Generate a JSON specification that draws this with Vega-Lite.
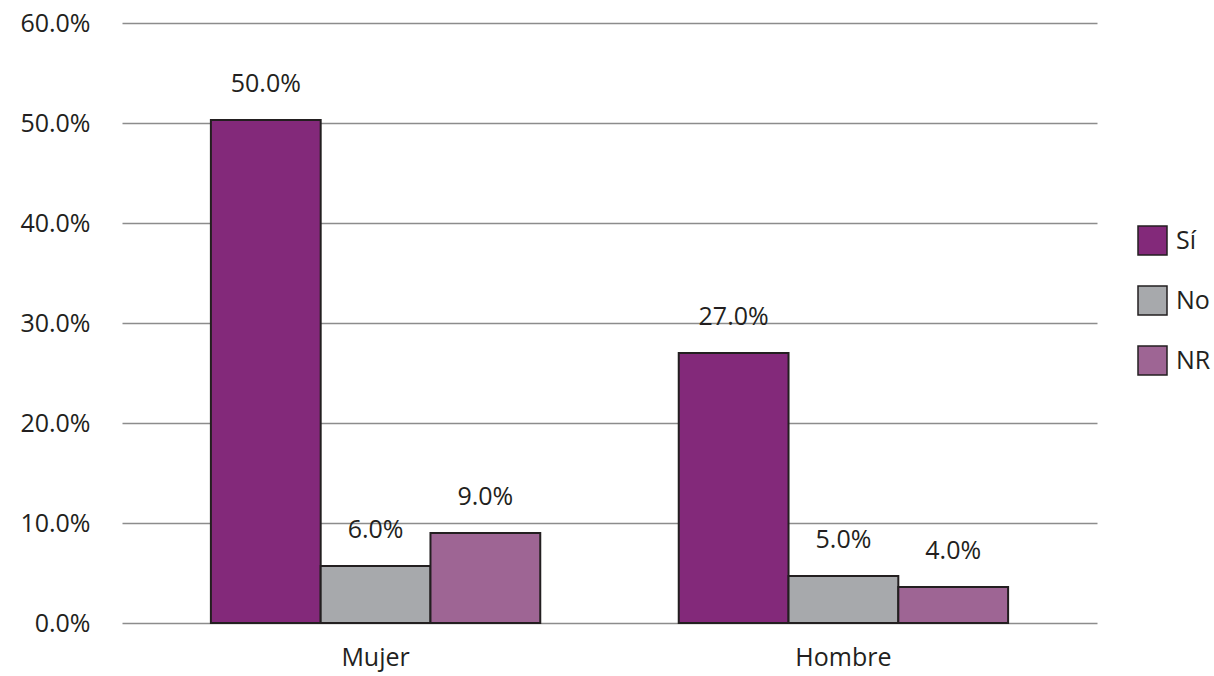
{
  "$schema": "https://vega.github.io/schema/vega-lite/v6.json",
  "width": 975,
  "height": 600,
  "autosize": {"type": "none"},
  "padding": {"left": 122, "top": 23, "right": 117, "bottom": 53},
  "background": "white",
  "config": {
    "view": {"stroke": null},
    "font": "Open Sans",
    "text": {"font": "Open Sans"}
  },
  "data": {
    "values": [
      {"sexo": "Mujer", "respuesta": "Sí", "valor": 50.3, "etiqueta": "50.0%"},
      {"sexo": "Mujer", "respuesta": "No", "valor": 5.7, "etiqueta": "6.0%"},
      {"sexo": "Mujer", "respuesta": "NR", "valor": 9.0, "etiqueta": "9.0%"},
      {"sexo": "Hombre", "respuesta": "Sí", "valor": 27.0, "etiqueta": "27.0%"},
      {"sexo": "Hombre", "respuesta": "No", "valor": 4.7, "etiqueta": "5.0%"},
      {"sexo": "Hombre", "respuesta": "NR", "valor": 3.6, "etiqueta": "4.0%"}
    ]
  },
  "encoding": {
    "x": {
      "field": "sexo",
      "type": "nominal",
      "sort": ["Mujer", "Hombre"],
      "scale": {"paddingInner": 0.296, "paddingOuter": 0.19},
      "axis": {
        "title": null,
        "labelAngle": 0,
        "labelFontSize": 25,
        "labelColor": "#231f20",
        "labelFont": "Open Sans",
        "labelPadding": 22,
        "domain": false,
        "ticks": false
      }
    },
    "xOffset": {
      "field": "respuesta",
      "type": "nominal",
      "sort": ["Sí", "No", "NR"],
      "scale": {"paddingInner": 0, "paddingOuter": 0}
    },
    "y": {
      "field": "valor",
      "type": "quantitative",
      "scale": {"domain": [0, 60], "nice": false},
      "axis": {
        "title": null,
        "values": [0, 10, 20, 30, 40, 50, 60],
        "labelExpr": "format(datum.value, '.1f') + '%'",
        "labelFontSize": 25,
        "labelColor": "#231f20",
        "labelFont": "Open Sans",
        "labelPadding": 32,
        "domain": false,
        "ticks": false,
        "grid": true,
        "gridColor": "#8c8c8c",
        "gridWidth": 1.5
      }
    }
  },
  "layer": [
    {
      "mark": {"type": "bar", "stroke": "#231f20", "strokeWidth": 2},
      "encoding": {
        "color": {
          "field": "respuesta",
          "type": "nominal",
          "sort": ["Sí", "No", "NR"],
          "scale": {"domain": ["Sí", "No", "NR"], "range": ["#83297a", "#a7a9ac", "#9e6594"]},
          "legend": {
            "title": null,
            "orient": "none",
            "legendX": 1015,
            "legendY": 202,
            "padding": 0,
            "symbolType": "square",
            "symbolSize": 841,
            "symbolStrokeColor": "#231f20",
            "symbolStrokeWidth": 1.5,
            "symbolOpacity": 1,
            "labelFontSize": 25,
            "labelFont": "Open Sans",
            "labelColor": "#231f20",
            "labelOffset": 8,
            "rowPadding": 25
          }
        }
      }
    },
    {
      "mark": {"type": "text", "dy": -36, "baseline": "middle", "fontSize": 25, "color": "#231f20", "font": "Open Sans"},
      "encoding": {"text": {"field": "etiqueta"}}
    }
  ]
}
